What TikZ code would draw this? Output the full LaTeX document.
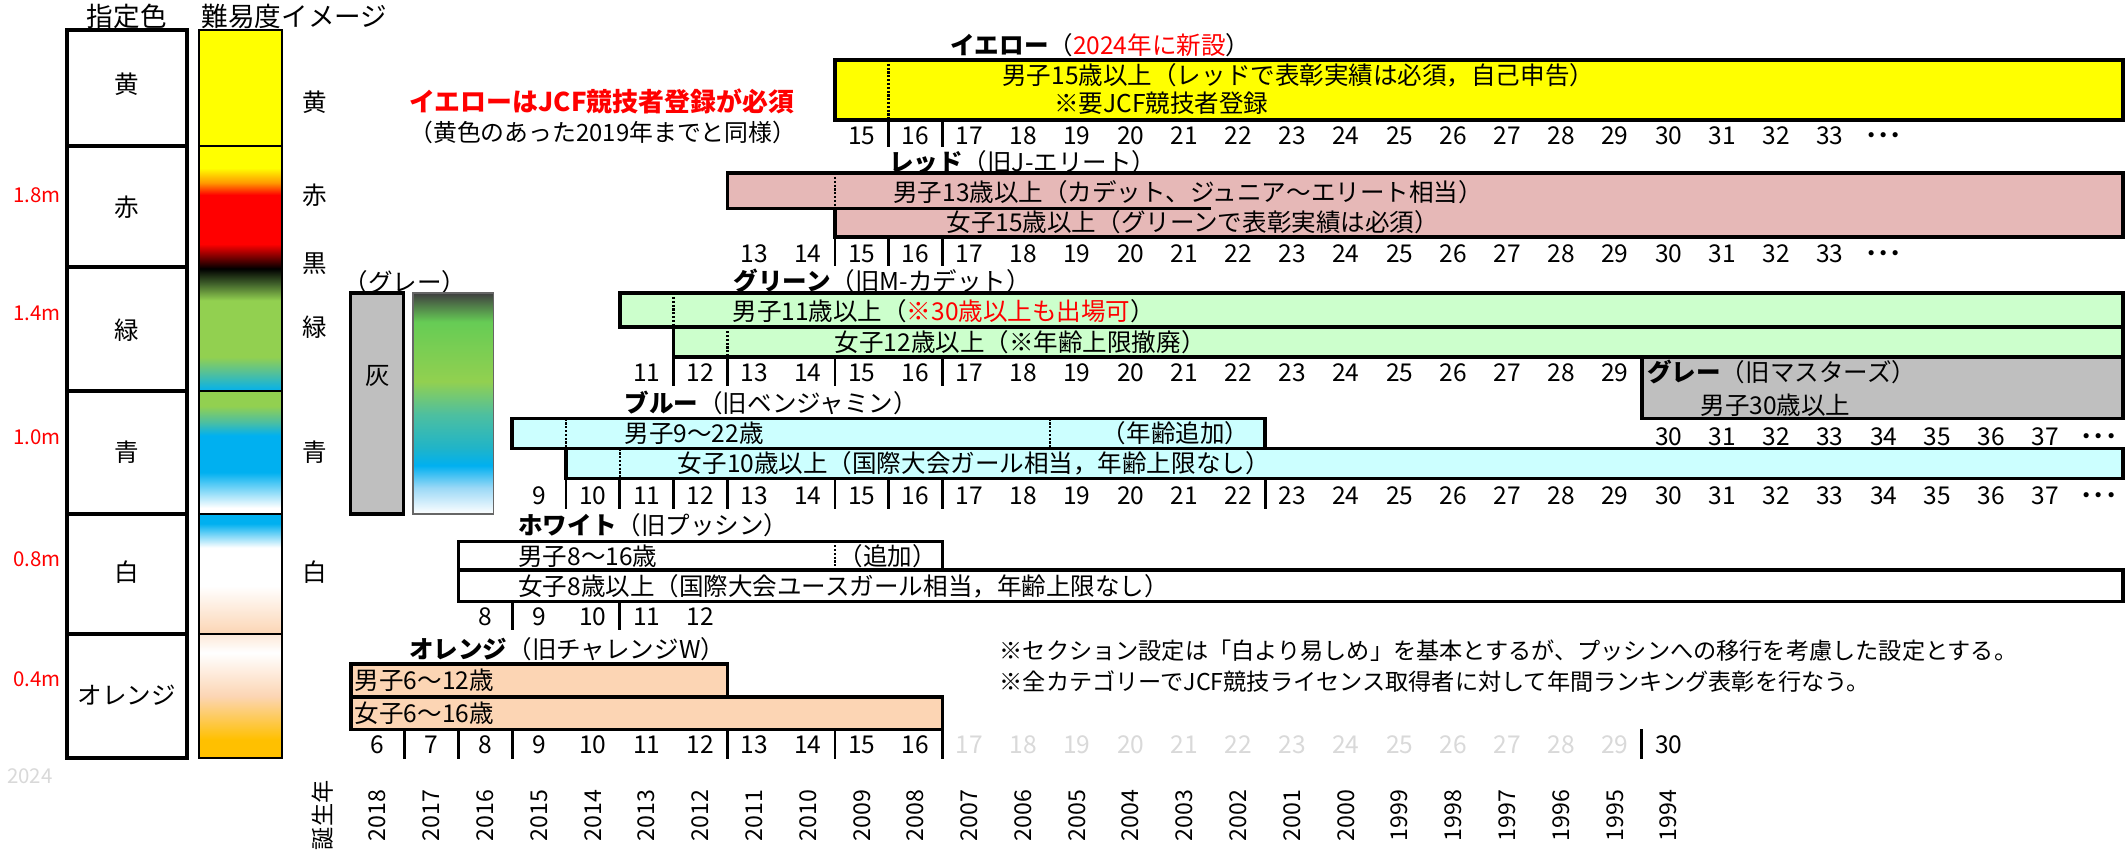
\documentclass[tikz,border=0pt]{standalone}
\usepackage{fontspec}
\setmainfont{Noto Sans CJK JP}
\definecolor{cyel}{HTML}{FFFF00}
\definecolor{cred}{HTML}{FF0000}
\definecolor{corg}{HTML}{FF9900}
\definecolor{cdkg}{HTML}{3F5F2A}
\definecolor{cgrn}{HTML}{92D050}
\definecolor{ctea}{HTML}{4DBFA0}
\definecolor{cblu}{HTML}{00B0F0}
\definecolor{cpch}{HTML}{FCD5B4}
\definecolor{cplt}{HTML}{FDE9D9}
\definecolor{cgld}{HTML}{FFC000}
\definecolor{cdgy}{HTML}{404040}
\definecolor{cbgr}{HTML}{66CC55}
\definecolor{cteb}{HTML}{20B4C8}
\definecolor{clbl}{HTML}{9AD8F6}
\definecolor{fyel}{HTML}{FFFF00}
\definecolor{fred}{HTML}{E6B8B7}
\definecolor{fgrn}{HTML}{CCFFCC}
\definecolor{fblu}{HTML}{CCFFFF}
\definecolor{fgry}{HTML}{BFBFBF}
\definecolor{forg}{HTML}{FCD5B4}
\definecolor{tred}{HTML}{FF0000}
\definecolor{tgry}{HTML}{D9D9D9}
\pgfdeclareverticalshading{segtwo}{100bp}{color(0bp)=(cblu); color(25bp)=(cblu); color(28.5bp)=(ctea); color(32bp)=(cgrn); color(43.5bp)=(cgrn); color(47bp)=(cdkg); color(50bp)=(black); color(55bp)=(cred); color(65bp)=(cred); color(67.5bp)=(corg); color(70.5bp)=(cyel); color(100bp)=(cyel)}
\pgfdeclareverticalshading{segthree}{100bp}{color(0bp)=(white); color(27.5bp)=(white); color(42bp)=(cblu); color(57bp)=(cblu); color(62.5bp)=(ctea); color(69bp)=(cgrn); color(100bp)=(cgrn)}
\pgfdeclareverticalshading{segfour}{100bp}{color(0bp)=(cpch); color(25bp)=(cpch); color(45bp)=(white); color(61bp)=(white); color(71bp)=(cblu); color(100bp)=(cblu)}
\pgfdeclareverticalshading{segfive}{100bp}{color(0bp)=(cgld); color(32.5bp)=(cgld); color(50bp)=(cpch); color(67.5bp)=(white); color(75bp)=(cplt); color(100bp)=(cplt)}
\pgfdeclareverticalshading{seggrey}{100bp}{color(0bp)=(white); color(25bp)=(white); color(31bp)=(clbl); color(36bp)=(cblu); color(40bp)=(cteb); color(47.5bp)=(ctea); color(55bp)=(cgrn); color(68.5bp)=(cbgr); color(75bp)=(cdgy); color(100bp)=(cdgy)}
\begin{document}
\begin{tikzpicture}[x=1pt,y=-1pt,
  declare function={cx(\a)=277+(\a-6)*39.45; bx(\a)=257.3+(\a-6)*39.45;},
  txt/.style={inner sep=0pt, anchor=west, font=\fontsize{18}{20}\selectfont, text height=15.8pt, text depth=2.2pt},
  note/.style={inner sep=0pt, anchor=west, font=\fontsize{17}{19}\selectfont, text height=15pt, text depth=2pt},
  num/.style={inner sep=0pt, font=\fontsize{18}{20}\selectfont, text height=15.8pt, text depth=2.2pt},
  hdr/.style={inner sep=0pt, font=\fontsize{19.5}{21}\selectfont, text height=17.2pt, text depth=2.3pt},
  lbl/.style={inner sep=0pt, font=\fontsize{18}{20}\selectfont, text height=15.8pt, text depth=2.2pt},
  hgt/.style={inner sep=0pt, text=tred, font=\fontsize{15}{17}\selectfont},
  byr/.style={inner sep=0pt, rotate=90, font=\fontsize{17}{19}\selectfont},
  lbox/.style={draw=black, line width=3pt},
  gbox/.style={draw=black, line width=1.3pt},
  box/.style={draw=black, line width=2.6pt},
  sep/.style={draw=black, line width=1.8pt, dash pattern=on 1.6pt off 1.2pt},
  tick/.style={draw=black, line width=2pt}]
\useasboundingbox (0,0) rectangle (1560,626);
\fill[white] (0,0) rectangle (1560,626);

% ---------- left legend ----------
\node[hdr] (h1) at (93,12) {指定色};
\node[hdr] (h2) at (216,12) {難易度イメージ};
\foreach \t/\b in {22/107,107/196,196/287,287/377,377/465,465/556}
  \draw[lbox] (49,\t) rectangle (137,\b);
\node[lbl] (l1) at (93,62) {黄};
\node[lbl] (l2) at (93,152) {赤};
\node[lbl] (l3) at (93,242) {緑};
\node[lbl] (l4) at (93,332) {青};
\node[lbl] (l5) at (93,420) {白};
\node[lbl] (l6) at (93,510) {オレンジ};
\node[hgt] (m1) at (27,143) {1.8m};
\node[hgt] (m2) at (27,230) {1.4m};
\node[hgt] (m3) at (27,321) {1.0m};
\node[hgt] (m4) at (27,410) {0.8m};
\node[hgt] (m5) at (27,498) {0.4m};
\node[hgt, text=tgry] (yr) at (22,569) {2024};

\fill[cyel] (146,22) rectangle (207,107);
\shade[shading=segtwo] (146,107) rectangle (207,287);
\shade[shading=segthree] (146,287) rectangle (207,377);
\shade[shading=segfour] (146,377) rectangle (207,465);
\shade[shading=segfive] (146,465) rectangle (207,556);
\foreach \t/\b in {22/107,107/287,287/377,377/465,465/556}
  \draw[gbox] (146,\t) rectangle (207,\b);
\node[lbl] (r1) at (231,75) {黄};
\node[lbl] (r2) at (231,143) {赤};
\node[lbl] (r3) at (231,193) {黒};
\node[lbl] (r4) at (231,240) {緑};
\node[lbl] (r5) at (231,332) {青};
\node[lbl] (r6) at (231,420) {白};

% grey block
\node[lbl] (gt) at (297,207) {（グレー）};
\draw[box, fill=fgry] (257,215) rectangle (296,377);
\node[lbl] (gk) at (277,275) {灰};
\shade[shading=seggrey] (303,215) rectangle (362,377);
\draw[line width=1.3pt, draw=black!60] (303,215) rectangle (362,377);

% yellow note
\node[txt, font=\fontsize{19}{21}\selectfont\bfseries, text=tred] (yn1) at (300,75) {イエローはJCF競技者登録が必須};
\node[txt, font=\fontsize{17.5}{19}\selectfont] (yn2) at (300,97) {（黄色のあった2019年までと同様）};

% ---------- yellow ----------
\node[txt] (ty) at (697,33) {\bfseries イエロー\mdseries（\textcolor{tred}{2024年に新設}）};
\draw[box, fill=fyel] ({bx(15)},44) rectangle (1557,88);
\draw[sep] ({bx(16)},44) -- ({bx(16)},88);
\node[txt] (y1) at (735,55) {男子15歳以上（レッドで表彰実績は必須，自己申告）};
\node[txt] (y2) at (773,76) {※要JCF競技者登録};
\foreach \a in {15,...,33} \node[num] (ny\a) at ({cx(\a)},99) {\a};
\node[num] (nyd) at ({cx(34)},99) {\bfseries ･･･};
\foreach \b in {16,17} \draw[tick] ({bx(\b)},88) -- ({bx(\b)},108);

% ---------- red ----------
\node[txt] (tr) at (652,119) {\bfseries レッド\mdseries（旧J-エリート）};
\fill[fred] ({bx(13)},127) rectangle (1557,153);
\fill[fred] ({bx(15)},153) rectangle (1557,174);
\draw[box] (1557,127) -- ({bx(13)},127) -- ({bx(13)},153) -- ({bx(15)},153) -- ({bx(15)},174) -- (1557,174) -- cycle;
\draw[box] ({bx(15)},153) -- ({bx(22)},153);
\draw[sep] ({bx(15)},127) -- ({bx(15)},153);
\node[txt] (r1t) at (655,141) {男子13歳以上（カデット、ジュニア～エリート相当）};
\node[txt] (r2t) at (694,163) {女子15歳以上（グリーンで表彰実績は必須）};
\foreach \a in {13,...,33} \node[num] (nr\a) at ({cx(\a)},186) {\a};
\node[num] (nrd) at ({cx(34)},186) {\bfseries ･･･};
\foreach \b in {15,16,17} \draw[tick] ({bx(\b)},174) -- ({bx(\b)},195);

% ---------- green ----------
\node[txt] (tg) at (538,206) {\bfseries グリーン\mdseries（旧M-カデット）};
\draw[box, fill=fgrn] ({bx(11)},215) rectangle (1557,240);
\draw[box, fill=fgrn] ({bx(12)},240) rectangle (1557,262);
\draw[sep] ({bx(12)},215) -- ({bx(12)},240);
\draw[sep] ({bx(13)},240) -- ({bx(13)},262);
\node[txt] (g1) at (537,228) {男子11歳以上（\textcolor{tred}{※30歳以上も出場可}）};
\node[txt] (g2) at (612,251) {女子12歳以上（※年齢上限撤廃）};
\foreach \a in {11,...,29} \node[num] (ng\a) at ({cx(\a)},273) {\a};
\foreach \b in {12,13,15,17} \draw[tick] ({bx(\b)},262) -- ({bx(\b)},283);

% ---------- grey (masters) ----------
\draw[box, fill=fgry] ({bx(30)},262) rectangle (1557,307);
\node[txt] (tm) at (1208,273) {\bfseries グレー\mdseries（旧マスターズ）};
\node[txt] (m1t) at (1247,297) {男子30歳以上};
\foreach \a in {30,...,37} \node[num] (nm\a) at ({cx(\a)},320) {\a};
\node[num] (nmd) at ({cx(38)},320) {\bfseries ･･･};

% ---------- blue ----------
\node[txt] (tb) at (458,296) {\bfseries ブルー\mdseries（旧ベンジャミン）};
\draw[box, fill=fblu] ({bx(9)},307) rectangle ({bx(23)},329);
\draw[box, fill=fblu] ({bx(10)},329) rectangle (1557,351);
\draw[sep] ({bx(10)},307) -- ({bx(10)},329);
\draw[sep] ({bx(19)},307) -- ({bx(19)},329);
\draw[sep] ({bx(11)},329) -- ({bx(11)},351);
\node[txt] (b1) at (458,318) {男子9～22歳};
\node[txt] (b1a) at (808,318) {（年齢追加）};
\node[txt] (b2) at (497,340) {女子10歳以上（国際大会ガール相当，年齢上限なし）};
\foreach \a in {9,...,37} \node[num] (nb\a) at ({cx(\a)},363) {\a};
\node[num] (nbd) at ({cx(38)},363) {\bfseries ･･･};
\foreach \b in {10,11,12,13,15,16,17,23} \draw[tick] ({bx(\b)},351) -- ({bx(\b)},373);

% ---------- white ----------
\node[txt] (tw) at (380,385) {\bfseries ホワイト\mdseries（旧プッシン）};
\draw[box, fill=white] ({bx(8)},397) rectangle ({bx(17)},418);
\draw[box, fill=white] ({bx(8)},418) rectangle (1557,441);
\draw[sep] ({bx(15)},397) -- ({bx(15)},418);
\node[txt] (w1) at (380,408) {男子8～16歳};
\node[txt] (w1a) at (615,408) {（追加）};
\node[txt] (w2) at (380,430) {女子8歳以上（国際大会ユースガール相当，年齢上限なし）};
\foreach \a in {8,...,12} \node[num] (nw\a) at ({cx(\a)},452) {\a};
\foreach \b in {9,11} \draw[tick] ({bx(\b)},441) -- ({bx(\b)},462);

% ---------- orange ----------
\node[txt] (to) at (300,476) {\bfseries オレンジ\mdseries（旧チャレンジW）};
\draw[box, fill=forg] ({bx(6)},487) rectangle ({bx(13)},511);
\draw[box, fill=forg] ({bx(6)},511) rectangle ({bx(17)},535);
\node[txt] (o1) at (260,499) {男子6～12歳};
\node[txt] (o2) at (260,523) {女子6～16歳};
\foreach \a in {6,...,16} \node[num] (no\a) at ({cx(\a)},546) {\a};
\foreach \a in {17,...,29} \node[num, text=tgry] (no\a) at ({cx(\a)},546) {\a};
\node[num] (no30) at ({cx(30)},546) {30};
\foreach \b in {7,8,9,13,15,17,30} \draw[tick] ({bx(\b)},535) -- ({bx(\b)},557);

% ---------- notes ----------
\node[note] (n1) at (733,477) {※セクション設定は「白より易しめ」を基本とするが、プッシンへの移行を考慮した設定とする。};
\node[note] (n2) at (733,500) {※全カテゴリーでJCF競技ライセンス取得者に対して年間ランキング表彰を行なう。};

% ---------- birth years ----------
\node[byr] (bl) at (237,598) {誕生年};
\foreach \a in {6,...,30} {
  \pgfmathtruncatemacro{\yy}{2024-\a}
  \node[byr] (by\a) at ({cx(\a)},598) {\yy};
}
\end{tikzpicture}
\end{document}
